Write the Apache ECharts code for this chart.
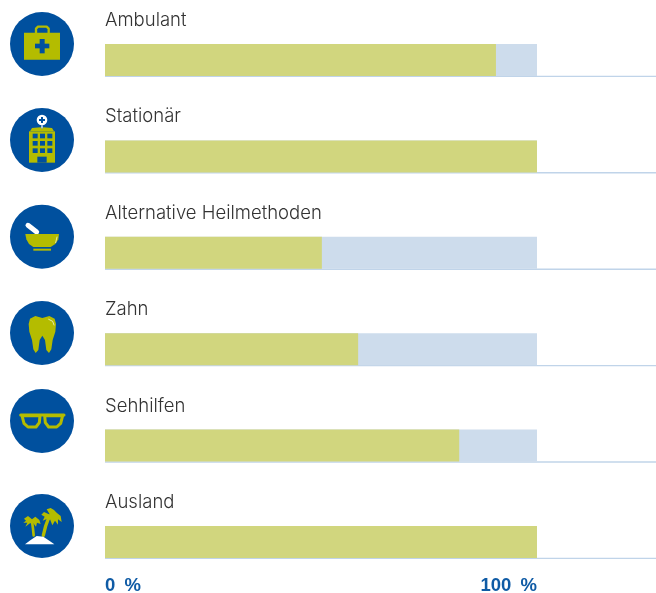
<!DOCTYPE html>
<html>
<head>
<meta charset="utf-8">
<style>html,body{margin:0;padding:0;background:#fff}#chart{width:656px;height:593px}</style>
</head>
<body>
<div id="chart"></div>
<script src="https://cdn.jsdelivr.net/npm/echarts@6/dist/echarts.min.js"></script>
<script>
var categories = ['Ambulant', 'Stationär', 'Alternative Heilmethoden', 'Zahn', 'Sehhilfen', 'Ausland'];
var values = [90.5, 100, 50.2, 58.6, 82, 100];
var totals = [100, 100, 100, 100, 100, 100];
var tickValues = [0, 100];

var BLUE = '#00509e', LIME = '#b4bc00', WHITE = '#ffffff';

// icons are plain decoration, coordinates are in 3x crop pixels and scaled down by the group
function circle(cx, cy, r, fill) {
  return { type: 'circle', shape: { cx: cx, cy: cy, r: r }, style: { fill: fill } };
}
function rect(x, y, w, h, fill, r) {
  return { type: 'rect', shape: { x: x, y: y, width: w, height: h, r: r || 0 }, style: { fill: fill } };
}
function poly(points, fill, smooth) {
  return { type: 'polygon', shape: { points: points, smooth: smooth || 0 }, style: { fill: fill } };
}
function ringPoly(points, color, width) {
  return {
    type: 'polygon', shape: { points: points },
    style: { stroke: color, lineWidth: width, fill: 'transparent', lineJoin: 'round' }
  };
}
function stroke(points, color, width) {
  return {
    type: 'polyline', shape: { points: points },
    style: { stroke: color, lineWidth: width, fill: 'transparent', lineCap: 'round', lineJoin: 'round' }
  };
}
function icon(offsetY, cy, parts) {
  return {
    type: 'group', x: 0, y: offsetY, scaleX: 1 / 3, scaleY: 1 / 3,
    children: [circle(126, cy, 96, BLUE)].concat(parts)
  };
}

var caseIcon = icon(0, 132, [
  stroke([[108, 98], [108, 86], [114, 80], [140, 80], [146, 86], [146, 98]], LIME, 7),
  rect(72, 98, 108, 81, LIME),
  rect(105, 131, 43, 14, BLUE),
  rect(119, 117, 15, 43, BLUE)
]);

var hospitalParts = [
  circle(126, 360, 16, WHITE),
  rect(117, 357, 18, 6, BLUE),
  rect(123, 351, 6, 18, BLUE),
  rect(124, 376, 4, 10, WHITE),
  poly([[90, 394], [96, 384], [122, 382], [126, 388], [130, 382], [156, 384], [162, 394]], LIME),
  rect(87, 394, 78, 94, LIME),
  rect(112, 470, 28, 18, BLUE)
];
[401, 423, 445].forEach(function (y) {
  [98, 120, 142].forEach(function (x) {
    hospitalParts.push(rect(x, y, 15, 14, BLUE));
  });
});
var hospitalIcon = icon(0, 420, hospitalParts);

var mortarIcon = icon(190, 140, [
  stroke([[84, 106], [110, 126]], WHITE, 15),
  poly([[76, 132], [177, 132], [175, 148], [166, 162], [152, 171], [100, 171], [87, 162], [79, 148]], LIME),
  rect(100, 176, 53, 6, LIME),
  stroke([[171, 141], [167, 158]], WHITE, 2)
]);

var toothIcon = icon(190, 429, [
  poly([[86, 402], [90, 386], [106, 378], [127, 384], [148, 378], [164, 386], [168, 402], [166, 425], [158, 450], [154, 478], [147, 489], [139, 480], [135, 450], [127, 437], [119, 450], [115, 480], [107, 489], [100, 478], [96, 450], [88, 425]], LIME),
  stroke([[146, 388], [158, 394], [162, 405]], WHITE, 2)
]);

var glassesIcon = icon(380, 123, [
  stroke([[62, 105], [192, 105]], LIME, 9),
  ringPoly([[66, 107], [120, 107], [118, 128], [108, 141], [84, 141], [72, 130]], LIME, 9),
  ringPoly([[134, 107], [188, 107], [182, 130], [170, 141], [146, 141], [136, 128]], LIME, 9)
]);

var islandIcon = icon(380, 438, [
  stroke([[130, 466], [137, 438], [148, 408]], LIME, 10),
  poly([[150, 404], [132, 396], [124, 404], [134, 410], [128, 422], [142, 416], [136, 432], [150, 418], [157, 436], [165, 422], [174, 434], [174, 418], [185, 426], [182, 408], [170, 398], [162, 390], [152, 384], [140, 388]], LIME),
  stroke([[101, 466], [99, 446], [96, 424]], LIME, 8),
  poly([[96, 418], [84, 408], [72, 416], [78, 422], [70, 428], [82, 428], [76, 440], [90, 430], [100, 430], [108, 440], [111, 428], [122, 432], [118, 420], [106, 410]], LIME),
  poly([[75, 493], [92, 480], [110, 468], [130, 470], [148, 482], [163, 493]], WHITE)
]);

var chart = echarts.init(document.getElementById('chart'));
var axisMax = 127.55;

chart.setOption({
  animation: false,
  textStyle: { fontFamily: 'Liberation Sans' },
  grid: { left: 105, right: 0, top: 11.8, height: 578.4, outerBoundsMode: 'none' },
  xAxis: {
    type: 'value', min: 0, max: axisMax, z: 10,
    splitLine: { show: false }, axisLine: { show: false }, axisTick: { show: false },
    axisLabel: {
      customValues: tickValues,
      formatter: function (v) { return v + '\u2002%'; },
      inside: true, margin: -5, align: 'right', alignMinLabel: 'left',
      color: '#0f5ba5', fontSize: 18.5, fontWeight: 'bold', fontFamily: 'Liberation Sans'
    }
  },
  yAxis: {
    type: 'category', inverse: true, data: categories, z: 10,
    axisLine: { show: false }, axisTick: { show: false }, splitLine: { show: false },
    axisLabel: {
      inside: true, margin: 0, align: 'left', verticalAlign: 'bottom',
      padding: [0, 0, 30, 0],
      color: '#333333', fontSize: 18.5, fontWeight: 300, fontFamily: 'Inter'
    }
  },
  series: [
    {
      type: 'custom', silent: true, z: 1, data: categories.map(function (c, i) { return [axisMax, i]; }),
      encode: { x: 0, y: 1 },
      renderItem: function (params, api) {
        var start = api.coord([0, api.value(1)]);
        var end = api.coord([axisMax, api.value(1)]);
        return {
          type: 'line',
          shape: { x1: start[0], y1: start[1] + 16.4, x2: end[0], y2: end[1] + 16.4 },
          style: { stroke: '#c0d4e9', lineWidth: 1.4 }
        };
      }
    },
    {
      type: 'bar', silent: true, z: 2, data: totals, barWidth: 32, barGap: '-100%',
      itemStyle: { color: '#cddcec' }
    },
    {
      type: 'bar', silent: true, z: 3, data: values, barWidth: 32, barGap: '-100%',
      itemStyle: { color: '#d1d67e' }
    }
  ],
  graphic: { elements: [caseIcon, hospitalIcon, mortarIcon, toothIcon, glassesIcon, islandIcon] }
});
</script>
</body>
</html>
